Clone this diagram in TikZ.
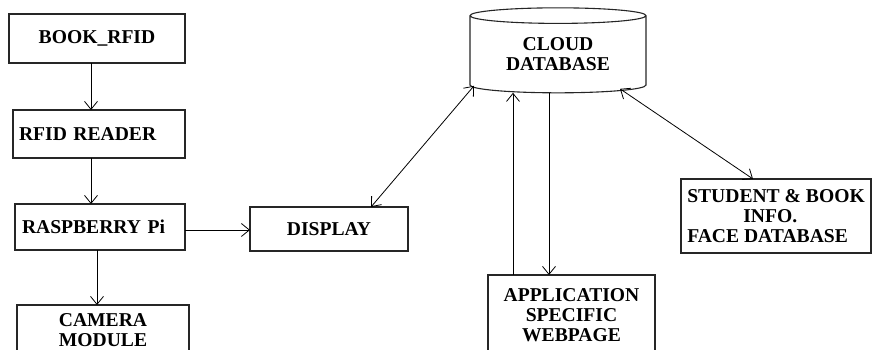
\documentclass[tikz,border=0pt]{standalone}
\usepackage{fontspec}
\setmainfont{Liberation Serif}
\usetikzlibrary{shapes.geometric,arrows.meta}

\begin{document}
\begin{tikzpicture}[
    x = 1pt, y = 1pt,
    font = \fontsize{19.6}{20}\selectfont\bfseries,
    outer sep = 0mm, inner sep = 0mm,
    >={Straight Barb[length=8pt,width=13pt]},
    blk/.style = {
      rectangle, draw = black!85, line width = 1.1pt,
    },
    link/.style = {
      line width = .8pt, ->,
    },
  ]

  \useasboundingbox (0,0) rectangle (872,350);
  \clip (0,0) rectangle (872,350);

  % left column
  \node[blk, minimum width = 176, minimum height = 49] (book) at (97,311.5) {BOOK\_RFID};
  \node[blk, minimum width = 172, minimum height = 48, text width = 160, align = left]
    (reader) at (99,216) {RFID READER};
  \node[blk, minimum width = 170, minimum height = 46, text width = 156, align = left]
    (rasp) at (100,123) {RASPBERRY Pi};
  \node[blk, minimum width = 172, minimum height = 50, align = center]
    (camera) at (103,20) {CAMERA\\MODULE};
  \node[blk, minimum width = 158, minimum height = 44] (display) at (329,121) {DISPLAY};

  % cloud side
  \node[cylinder, shape border rotate = 90, draw = black!85, line width = 1.1pt,
    minimum width = 176, minimum height = 85, aspect = .15, align = center]
    (cloud) at (558,295.5) {CLOUD\\DATABASE};
  \node[blk, minimum width = 167, minimum height = 80, align = center]
    (app) at (571.5,35) {APPLICATION\\SPECIFIC\\WEBPAGE};
  \node[blk, minimum width = 190, minimum height = 74, align = left]
    (student) at (776,134) {STUDENT \& BOOK\\\hspace*{56pt}INFO.\\FACE DATABASE};

  \draw[link] ([xshift=-6]book.south) to ([xshift=-6]book.south |- reader.north);
  \draw[link] ([xshift=-8]reader.south) to ([xshift=-8]reader.south |- rasp.north);
  \draw[link] ([xshift=-3]rasp.south) to ([xshift=-3]rasp.south |- camera.north);
  \draw[link] ([yshift=-3]rasp.east) to ([yshift=-3]rasp.east -| display.west);

  \draw[link, <->] ([xshift=42]display.north) to ([xshift=-84,yshift=7]cloud.south);
  \draw[link] ([xshift=-58.5]app.north) to ([xshift=-58.5]app.north |- cloud.south);
  \draw[link] ([xshift=-22.5]app.north |- cloud.south) to ([xshift=-22.5]app.north);
  \draw[link, <->] ([xshift=62,yshift=4]cloud.south) to ([xshift=-23]student.north);
\end{tikzpicture}
\end{document}
